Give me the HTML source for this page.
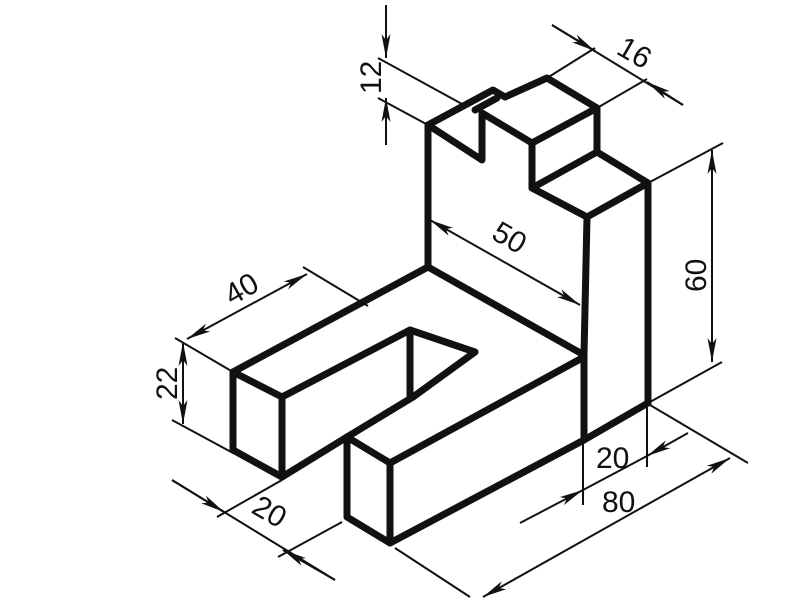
<!DOCTYPE html>
<html><head><meta charset="utf-8"><style>
html,body{margin:0;padding:0;background:#fff;width:800px;height:608px;overflow:hidden}
svg{display:block}
text{font-family:"Liberation Sans",sans-serif;font-size:30px;fill:#111}
</style></head><body>
<svg width="800" height="608" viewBox="0 0 800 608">
<defs>
<marker id="ar" viewBox="0 0 24 10" refX="24" refY="5" markerWidth="24" markerHeight="10" markerUnits="userSpaceOnUse" orient="auto-start-reverse">
<path d="M0,0.5 L24,5 L0,9.5 L6,5 Z" fill="#111"/></marker>
</defs>
<rect width="800" height="608" fill="#fff"/>
<g stroke="#111" stroke-width="7" fill="none" stroke-linejoin="round" stroke-linecap="round">
<polyline points="428,267 428,125 493,90 505,97 547,78 597,108 597,152 648,183 648,403"/>
<polyline points="428,125 482,160 482,113 532,143 597,108"/>
<line x1="475" y1="110" x2="497" y2="98"/>
<polyline points="532,143 532,188 597,152"/>
<polyline points="532,188 587,217 648,183"/>
<polyline points="587,217 584,355 584,440"/>
<line x1="428" y1="267" x2="584" y2="355"/>
<polyline points="428,267 233,372 282,397 410,330 475,352 413,397"/>
<line x1="410" y1="330" x2="410" y2="397"/>
<polyline points="233,372 233,450 282,477 282,397"/>
<polyline points="282,477 347,437 413,397"/>
<polyline points="347,437 390,463 584,357"/>
<polyline points="347,437 347,517 390,543 390,463"/>
<polyline points="390,543 584,440 648,403"/>
</g>
<g stroke="#111" stroke-width="2" fill="none">
<line x1="378" y1="58" x2="462" y2="104"/>
<line x1="378" y1="98" x2="428" y2="125"/>
<line x1="386" y1="5" x2="386" y2="58" marker-end="url(#ar)"/>
<line x1="386" y1="145" x2="386" y2="98" marker-end="url(#ar)"/>
<line x1="547" y1="78" x2="595" y2="48"/>
<line x1="597" y1="108" x2="647" y2="79"/>
<line x1="552" y1="25" x2="683" y2="105"/>
<line x1="552" y1="25" x2="595" y2="51" marker-end="url(#ar)"/>
<line x1="683" y1="105" x2="647" y2="82" marker-end="url(#ar)"/>
<line x1="650" y1="182" x2="723" y2="143"/>
<line x1="650" y1="402" x2="722" y2="362"/>
<line x1="712" y1="150" x2="712" y2="362" marker-start="url(#ar)" marker-end="url(#ar)"/>
<line x1="430" y1="220" x2="580" y2="305" marker-start="url(#ar)" marker-end="url(#ar)"/>
<line x1="303" y1="267" x2="368" y2="306"/>
<line x1="175" y1="338" x2="233" y2="372"/>
<line x1="187" y1="339" x2="307" y2="274" marker-start="url(#ar)" marker-end="url(#ar)"/>
<line x1="172" y1="420" x2="233" y2="453"/>
<line x1="183" y1="342" x2="183" y2="424" marker-start="url(#ar)" marker-end="url(#ar)"/>
<line x1="282" y1="480" x2="217" y2="517"/>
<line x1="342" y1="522" x2="278" y2="557"/>
<line x1="172" y1="480" x2="335" y2="580"/>
<line x1="172" y1="480" x2="224" y2="512" marker-end="url(#ar)"/>
<line x1="335" y1="580" x2="283" y2="550" marker-end="url(#ar)"/>
<line x1="583" y1="440" x2="583" y2="505"/>
<line x1="647" y1="403" x2="647" y2="467"/>
<line x1="520" y1="523" x2="583" y2="490" marker-end="url(#ar)"/>
<line x1="583" y1="490" x2="647" y2="456"/>
<line x1="688" y1="433" x2="647" y2="456" marker-end="url(#ar)"/>
<line x1="395" y1="548" x2="470" y2="597"/>
<line x1="650" y1="405" x2="748" y2="463"/>
<line x1="483" y1="597" x2="730" y2="458" marker-start="url(#ar)" marker-end="url(#ar)"/>
</g>
<g>
<text transform="translate(381,94) rotate(-90)">12</text>
<text transform="translate(615,53) rotate(30)">16</text>
<text transform="translate(706,292) rotate(-90)">60</text>
<text transform="translate(490,238) rotate(30)">50</text>
<text transform="translate(232,306) rotate(-30)">40</text>
<text transform="translate(177,400) rotate(-90)">22</text>
<text transform="translate(250,512) rotate(30)">20</text>
<text x="596" y="468">20</text>
<text x="602" y="512">80</text>
</g>
</svg>
</body></html>
